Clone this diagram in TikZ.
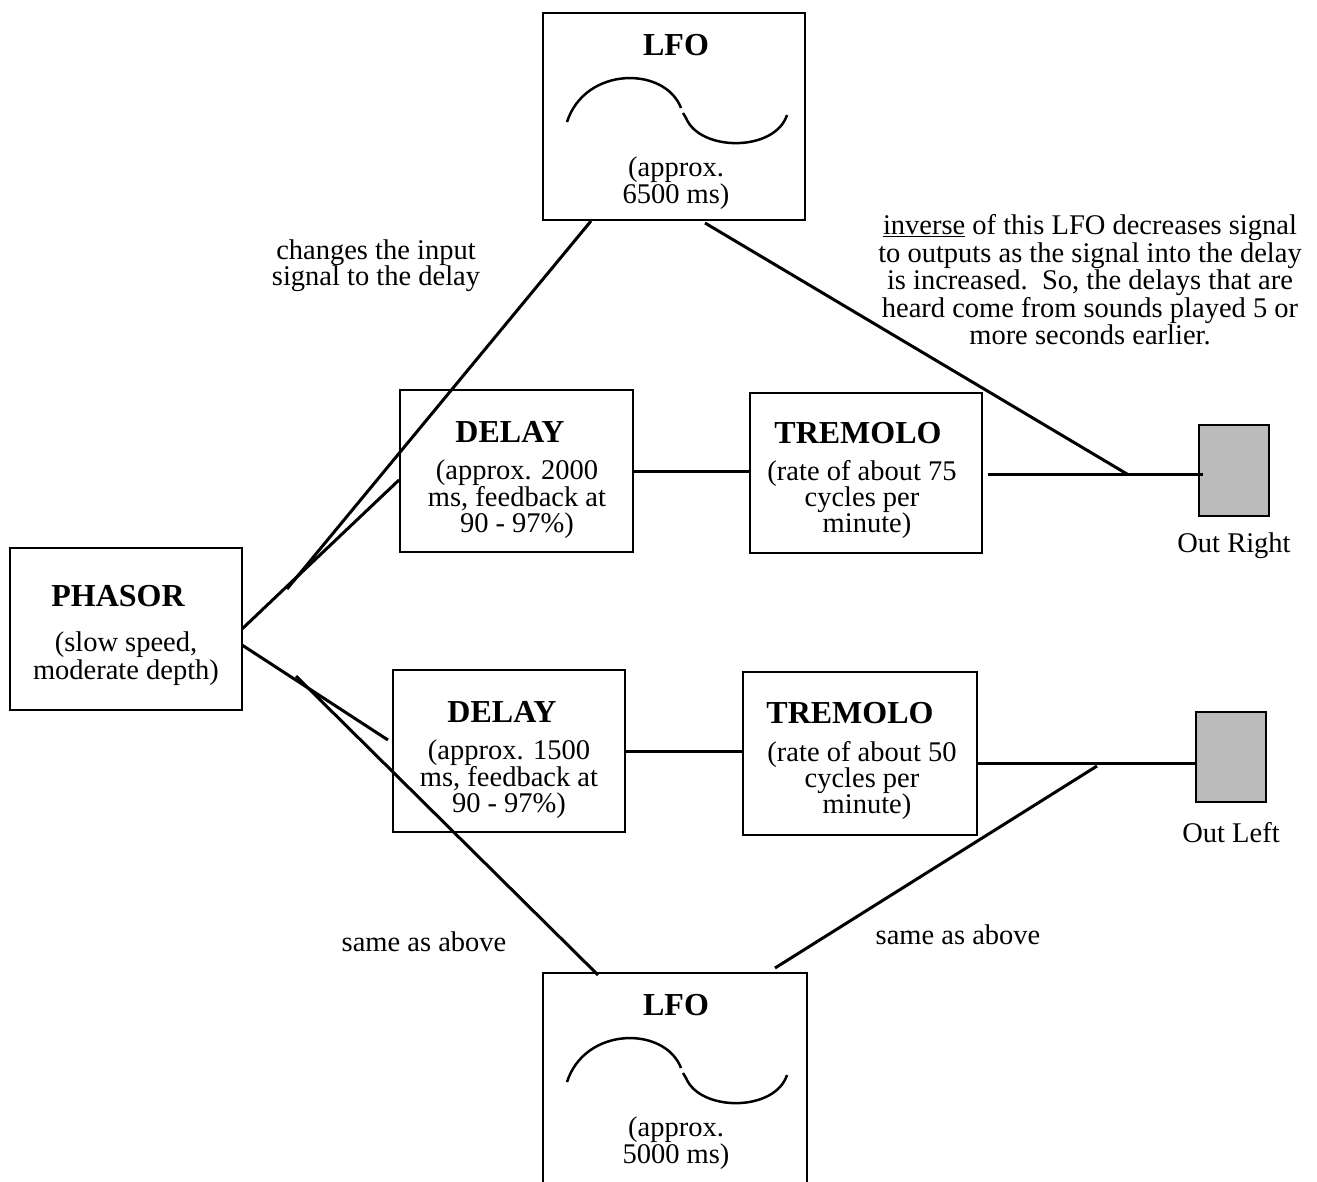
\documentclass[tikz,border=0pt]{standalone}
\usepackage{fontspec}
\setmainfont{Liberation Serif}
\usetikzlibrary{calc}
\definecolor{outgray}{HTML}{BBBBBB}
\tikzset{
  box/.style={draw, line width=2.5pt, inner sep=0pt, outer sep=0pt, fill=white},
  outbox/.style={draw, line width=2.5pt, inner sep=0pt, outer sep=0pt, fill=outgray, minimum width=70pt, minimum height=90pt},
  wire/.style={line width=3pt},
  wave/.style={line width=2.5pt},
  title/.style={font=\fontsize{32}{36}\selectfont\bfseries, inner sep=0pt},
  body/.style={font=\fontsize{28.5}{26}\selectfont, align=center, inner sep=0pt},
}
\begin{document}
\begin{tikzpicture}[x=1pt,y=-1pt]
\useasboundingbox (0,0) rectangle (1317,1182);
\clip (0,0) rectangle (1317,1182);
\fill[white] (0,0) rectangle (1317,1182);

% boxes
\node[box, minimum width=262pt, minimum height=207pt] (lfoA) at (674,116.5) {};
\node[box, minimum width=232pt, minimum height=162pt] (phasor) at (126,629) {};
\node[box, minimum width=233pt, minimum height=162pt] (delayA) at (516.5,471) {};
\node[box, minimum width=232pt, minimum height=160pt] (tremA) at (866,473) {};
\node[outbox, minimum height=91pt] (outR) at (1234,470.5) {};
\node[box, minimum width=232pt, minimum height=162pt] (delayB) at (509,751) {};
\node[box, minimum width=234pt, minimum height=163pt] (tremB) at (860,753.5) {};
\node[outbox] (outL) at (1231,757) {};
\node[box, minimum width=264pt, minimum height=230pt] (lfoB) at (675,1088) {};

% free ends
\coordinate (tA) at (287,589);
\coordinate (tB) at (296,676);
\coordinate (jR) at (1127,474);
\coordinate (jL) at (1097,766);

% connectors
\draw[wire] (phasor.east) -- ($(delayA.west)+(-1,9)$);
\draw[wire] (tA) -- ($(lfoA.south)+(-83,1)$);
\draw[wire] ($(phasor.east)+(0,16)$) -- ($(delayB.west)+(-5,-11)$);
\draw[wire] (tB) -- ($(lfoB.north)+(-77,2)$);
\draw[wire] (delayA.east) -- (delayA.east -| tremA.west);
\draw[wire] ($(tremA.east)+(6,1)$) -- ($(outR.west)+(4,3.5)$);
\draw[wire] ($(lfoA.south)+(31,3)$) -- (jR);
\draw[wire] (delayB.east) -- (delayB.east -| tremB.west);
\draw[wire] ($(tremB.east)+(0,9.5)$) -- ($(outL.west)+(0,6)$);
\draw[wire] ($(lfoB.north)+(100,-5)$) -- (jL);

% LFO waves
\draw[wave] (567,122) .. controls (585,66) and (665,66) .. (681,108);
\draw[wave] (683,113) -- (686,118) .. controls (700,152) and (775,152) .. (787,115);
\draw[wave] (567,1082) .. controls (585,1026) and (665,1026) .. (681,1068);
\draw[wave] (683,1073) -- (686,1078) .. controls (700,1112) and (775,1112) .. (787,1075);

% texts
\node[title] (lfoAt) at (676,45) {LFO};
\node[body, font=\fontsize{28.5}{23.5}\selectfont] (lfoAx) at (676,183) {(approx.\\6500 ms)};
\node[title] (lfoBt) at (676,1005) {LFO};
\node[body, font=\fontsize{28.5}{23.5}\selectfont] (lfoBx) at (676,1143) {(approx.\\5000 ms)};

\node[title] (phasort) at (118,596) {PHASOR};
\node[body, font=\fontsize{28.5}{28}\selectfont] (phasorx) at (126,659) {(slow speed,\\moderate depth)};

\node[title] (delayAt) at (510,432) {DELAY};
\node[body] (delayAx) at (517,499) {(approx. 2000\\ms, feedback at\\90 - 97\%)};
\node[title] (tremAt) at (858,433) {TREMOLO};
\node[body] (tremAx) at (862,499) {(rate of about 75\\cycles per\\\hspace*{10pt}minute)};

\node[title] (delayBt) at (502,712) {DELAY};
\node[body] (delayBx) at (509,779) {(approx. 1500\\ms, feedback at\\90 - 97\%)};
\node[title] (tremBt) at (850,713) {TREMOLO};
\node[body] (tremBx) at (862,780) {(rate of about 50\\cycles per\\\hspace*{10pt}minute)};

\node[body] (outRl) at (1234,546) {Out Right};
\node[body] (outLl) at (1231,833) {Out Left};

\node[body] (chg) at (376,266) {changes the input\\signal to the delay};
\node[body, font=\fontsize{28.5}{27.5}\selectfont] (inv) at (1090,280) {\underline{inverse} of this LFO decreases signal\\to outputs as the signal into the delay\\is increased.\ \ So, the delays that are\\heard come from sounds played 5 or\\more seconds earlier.};
\node[body] (sameA) at (424,942) {same as above};
\node[body] (sameB) at (958,935) {same as above};
\end{tikzpicture}
\end{document}
